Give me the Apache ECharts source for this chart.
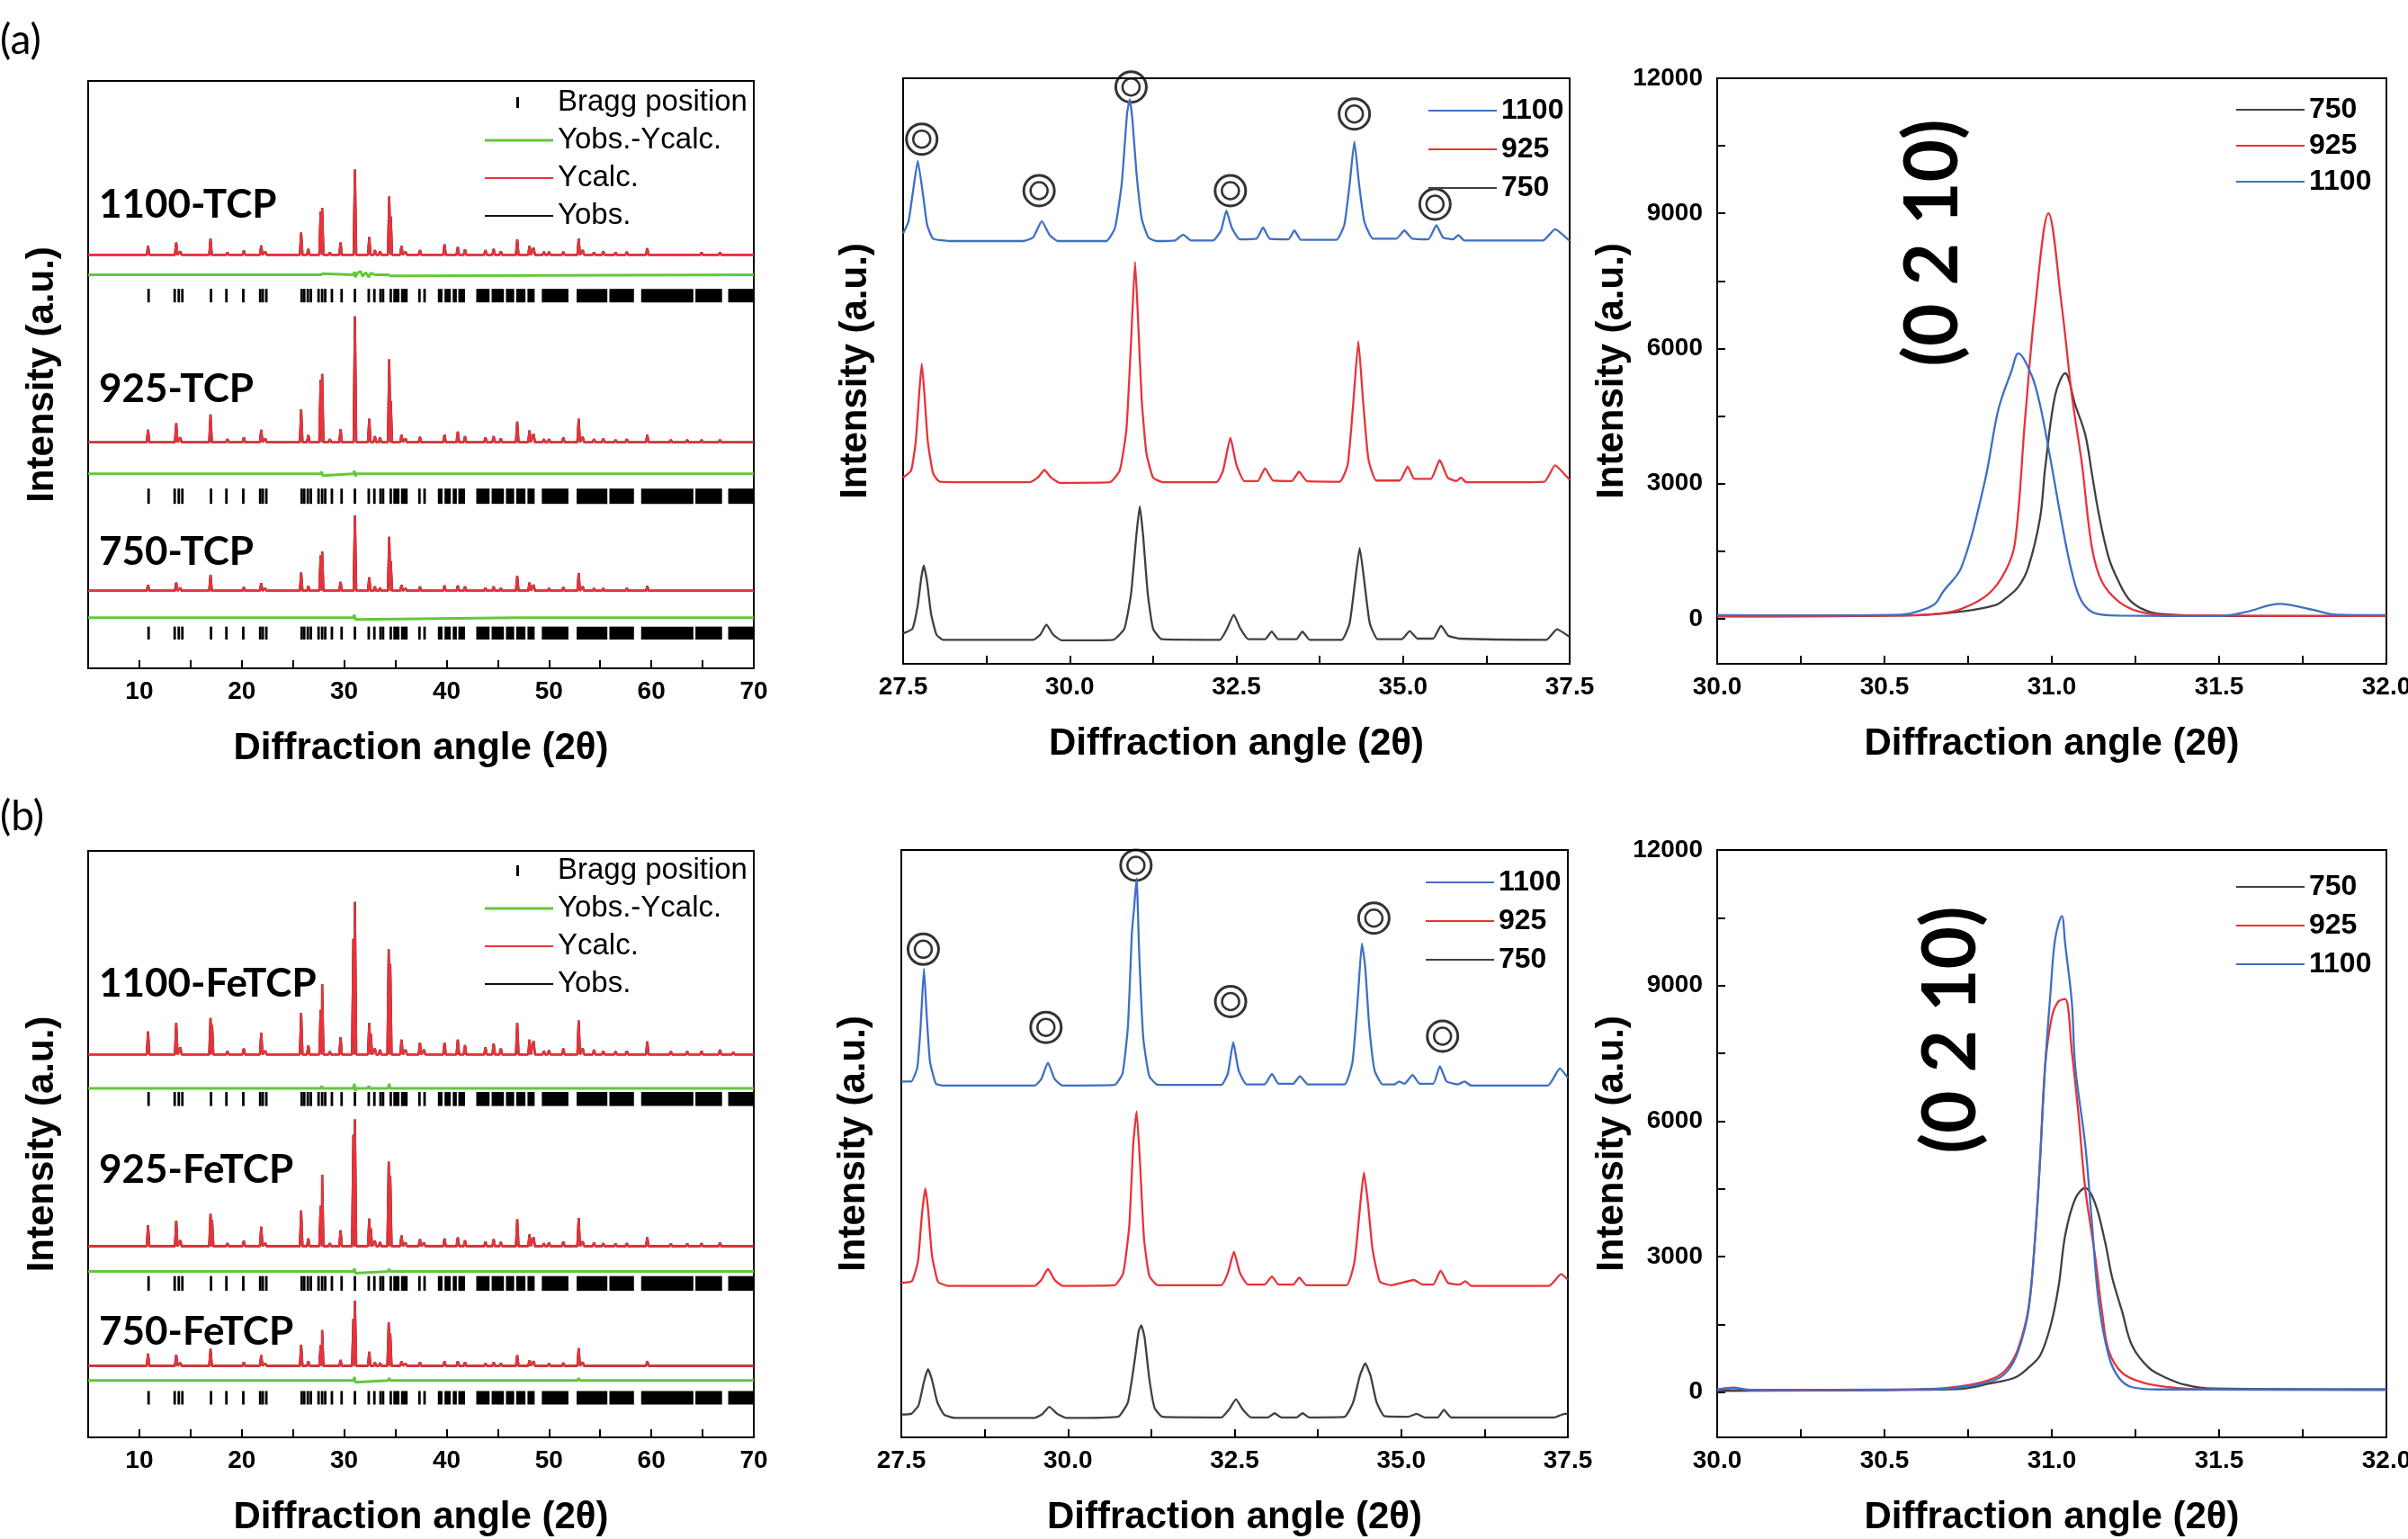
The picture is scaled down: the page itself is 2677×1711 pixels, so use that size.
<!DOCTYPE html>
<html><head><meta charset="utf-8">
<script src="https://cdn.jsdelivr.net/npm/echarts@6/dist/echarts.min.js"></script>
<style>html,body{margin:0;padding:0;background:#fff}#c{width:2677px;height:1711px}</style>
</head><body><div id="c"></div>
<script>
// ---------- Left panels: Rietveld patterns (peak position, height above baseline) ----------
const PEAKS_A1100 = [[10.85,1.5],[13.6,2.1],[14.0,0.6],[16.95,2.8],[18.6,0.4],[20.2,0.7],[21.9,1.6],[22.3,0.5],[25.8,3.8],[26.5,1.0],[27.7,7.4],[27.85,8.0],[28.6,0.4],[29.65,2.1],[31.05,14.5],[32.45,3.0],[33.0,0.8],[33.5,0.6],[34.4,9.9],[34.55,6.5],[35.6,1.5],[36.0,0.5],[37.4,0.8],[39.8,1.8],[41.1,1.3],[41.8,0.9],[43.8,0.8],[44.6,1.0],[45.3,0.6],[46.9,2.6],[48.1,1.5],[48.5,1.2],[49.5,0.5],[50.0,0.5],[51.4,0.5],[52.9,2.8],[53.3,0.8],[54.4,0.4],[55.3,0.6],[56.5,0.4],[57.6,0.5],[59.6,1.1],[61.9,0.3],[63.5,0.3],[64.9,0.4],[66.7,0.4],[68.9,0.3]];
const PEAKS_A925 = [[10.85,2.1],[13.6,3.2],[14.0,0.8],[16.95,4.7],[18.6,0.5],[20.2,0.8],[21.9,2.1],[22.3,0.6],[25.8,5.6],[26.5,1.2],[27.7,10.6],[27.85,11.6],[28.6,0.5],[29.65,2.2],[31.05,21.4],[32.45,4.0],[33.0,1.0],[33.5,0.8],[34.4,14.1],[34.55,7.0],[35.6,1.3],[36.0,0.6],[37.4,0.9],[39.8,1.3],[41.1,1.8],[41.8,1.0],[43.8,0.8],[44.6,1.0],[45.3,0.6],[46.9,3.5],[48.1,2.0],[48.5,1.4],[49.5,0.5],[50.0,0.5],[51.4,0.8],[52.9,4.0],[53.3,0.9],[54.4,0.5],[55.3,0.6],[56.5,0.4],[57.6,0.5],[59.6,1.3],[61.9,0.4],[63.5,0.4],[64.9,0.4],[66.7,0.4],[68.9,0.3]];
const PEAKS_A750 = [[10.85,1.0],[13.6,1.4],[14.0,0.5],[16.95,2.7],[18.6,0.3],[20.2,0.6],[21.9,1.3],[22.3,0.4],[25.8,3.1],[26.5,0.8],[27.7,6.0],[27.85,6.7],[28.6,0.3],[29.65,1.5],[31.05,12.8],[32.45,2.3],[33.0,0.7],[33.5,0.5],[34.4,9.2],[34.55,5.0],[35.6,1.0],[36.0,0.4],[37.4,0.7],[39.8,0.9],[41.1,0.9],[41.8,0.7],[43.8,0.5],[44.6,0.7],[45.3,0.4],[46.9,2.5],[48.1,1.4],[48.5,1.0],[49.5,0.3],[50.0,0.4],[51.4,0.6],[52.9,3.0],[53.3,0.7],[54.4,0.4],[55.3,0.4],[56.5,0.3],[57.6,0.4],[59.6,0.8],[61.9,0.3],[63.5,0.3],[64.9,0.3],[66.7,0.3],[68.9,0.2]];
const PEAKS_B1100 = [[10.85,3.9],[13.6,5.4],[14.0,1.2],[16.95,6.2],[17.1,5.0],[18.6,0.6],[20.2,1.0],[21.9,3.7],[22.3,0.6],[25.8,7.1],[26.5,1.5],[27.7,7.6],[27.85,12.0],[28.6,0.5],[29.65,2.9],[30.9,19.7],[31.05,26.0],[32.45,5.4],[32.6,3.5],[33.0,1.0],[33.5,0.8],[34.35,17.9],[34.5,15.4],[35.6,2.5],[36.0,0.8],[37.4,2.0],[37.8,0.8],[39.8,2.0],[41.1,2.5],[41.8,1.6],[43.8,1.2],[44.6,1.8],[45.3,1.0],[46.9,5.4],[48.1,2.5],[48.5,2.3],[49.5,0.6],[50.0,0.7],[51.4,1.0],[52.9,5.8],[53.3,1.0],[54.4,0.8],[55.3,0.6],[56.5,0.5],[57.6,0.6],[59.6,2.2],[61.9,0.5],[63.5,0.5],[64.9,0.6],[66.7,0.8],[68.0,0.4]];
const PEAKS_B925 = [[10.85,3.6],[13.6,4.3],[14.0,1.0],[16.95,5.5],[17.1,4.5],[18.6,0.5],[20.2,0.9],[21.9,3.3],[22.3,0.5],[25.8,6.1],[26.5,1.3],[27.7,6.9],[27.85,12.2],[28.6,0.5],[29.65,2.7],[30.9,19.0],[31.05,21.6],[32.45,4.7],[32.6,3.0],[33.0,0.9],[33.5,0.7],[34.35,14.4],[34.5,12.0],[35.6,1.8],[36.0,0.6],[37.4,1.2],[37.8,0.6],[39.8,1.3],[41.1,1.5],[41.8,1.0],[43.8,0.8],[44.6,1.2],[45.3,0.7],[46.9,4.6],[48.1,2.0],[48.5,1.5],[49.5,0.5],[50.0,0.6],[51.4,0.8],[52.9,4.8],[53.3,0.8],[54.4,0.6],[55.3,0.5],[56.5,0.4],[57.6,0.5],[59.6,1.5],[61.9,0.4],[63.5,0.4],[64.9,0.5],[66.7,0.6],[68.0,0.3]];
const PEAKS_B750 = [[10.85,2.1],[13.6,1.9],[14.0,0.5],[16.95,2.9],[18.6,0.3],[20.2,0.6],[21.9,1.8],[22.3,0.4],[25.8,3.6],[26.5,0.8],[27.7,3.5],[27.85,6.1],[28.6,0.3],[29.65,1.0],[30.9,8.0],[31.05,11.1],[32.45,2.4],[33.0,0.6],[33.5,0.5],[34.35,7.4],[34.5,5.5],[35.6,0.8],[36.0,0.4],[37.4,0.6],[39.8,0.8],[41.1,0.8],[41.8,0.6],[43.8,0.4],[44.6,0.6],[45.3,0.4],[46.9,1.8],[48.1,0.9],[48.5,0.8],[49.5,0.3],[50.0,0.4],[51.4,0.5],[52.9,3.0],[53.3,0.6],[54.4,0.3],[55.3,0.3],[56.5,0.3],[57.6,0.3],[59.6,0.8],[61.9,0.2],[63.5,0.3],[64.9,0.3],[66.7,0.3],[68.0,0.2]];
const BASE_A = [70.4, 38.5, 13.2];   // baselines of 1100 / 925 / 750 (a)
const BASE_B = [65.3, 32.6, 12.2];   // baselines of 1100 / 925 / 750 (b)
// difference curves (deviation around their own level)
const DIFF_LEVEL_A = [67.0, 33.1, 8.6];
const DIFF_LEVEL_B = [59.5, 28.3, 9.7];
const DIFF_A1100 = [[5,0],[25.7,0],[25.8,0.3],[25.9,0],[27.7,0],[27.8,-0.3],[27.9,0.2],[28.0,0],[30.9,0],[31.0,0.5],[31.1,-0.4],[31.3,0.3],[31.6,0.6],[31.8,-0.3],[32.1,0.4],[32.4,-0.4],[32.6,0.3],[33.0,0],[34.3,0],[34.4,0.3],[34.5,-0.2],[34.6,0],[70,0]];
const DIFF_A925 = [[5,0],[27.7,0],[27.8,0.4],[27.9,-0.3],[28.0,0],[30.9,0],[31.0,0.5],[31.1,-0.4],[31.2,0],[34.3,0],[34.4,0.3],[34.5,0],[70,0]];
const DIFF_A750 = [[5,0],[10.8,0],[10.9,0.3],[11.0,0],[16.9,0],[17.0,0.3],[17.1,0],[30.9,0],[31.0,0.5],[31.1,-0.3],[31.2,0],[46.8,0],[46.9,0.3],[47.0,0],[70,0]];
const DIFF_B1100 = [[5,0],[10.8,0],[10.9,0.3],[11.0,0],[13.5,0],[13.6,0.3],[13.7,0],[27.7,0],[27.8,0.4],[27.9,0],[30.9,0],[31.0,0.8],[31.1,-0.4],[31.2,0],[32.3,0],[32.4,0.4],[32.5,0],[34.3,0],[34.4,0.8],[34.5,0],[70,0]];
const DIFF_B925 = [[5,0],[27.7,0],[27.8,0.3],[27.9,0],[30.9,0],[31.0,0.5],[31.1,-0.3],[31.2,0],[34.3,0],[34.4,0.4],[34.5,0],[70,0]];
const DIFF_B750 = [[5,0],[30.9,0],[31.0,0.6],[31.1,-0.3],[31.2,0],[34.3,0],[34.4,0.4],[34.5,0],[52.8,0],[52.9,0.4],[53.0,0],[70,0]];
// Bragg reflections
const BRAGG_SINGLE = [10.9,13.45,13.85,14.2,17.0,18.5,20.15,21.8,22.05,22.4,25.85,26.1,26.45,26.75,27.5,27.85,28.15,28.8,29.75,31.05,32.4,32.95,33.55,33.8,34.55,37.35,37.85];
const BRAGG_BLOCK = [[34.8,35.4],[35.55,36.2],[39.15,39.6],[39.8,40.4],[40.6,41.0],[41.15,41.8],[42.9,44.2],[44.4,45.6],[45.8,46.6],[46.8,47.7],[47.9,48.6],[49.3,51.9],[52.7,55.7],[55.9,58.3],[59.0,64.1],[64.3,66.9],[67.5,70.0]];
const BRAGG_ROWS_A = [[64.6,62.3],[30.6,28.0],[7.1,4.9]];
const BRAGG_ROWS_B = [[58.9,56.5],[27.5,25.0],[7.9,5.6]];

// ---------- Middle panels (relative intensity, stacked) ----------
const MID_A1100 = [[27.5,73.5],[27.58,75.5],[27.64,80],[27.72,85.9],[27.8,80],[27.86,75],[27.95,72.6],[28.2,72.2],[29.3,72.2],[29.45,72.8],[29.58,75.6],[29.7,73.2],[29.82,72.2],[30.55,72.2],[30.68,74.5],[30.78,82],[30.86,94],[30.9,96.4],[30.94,93],[31.0,84],[31.08,76],[31.18,72.8],[31.3,72.2],[31.58,72.3],[31.7,73.3],[31.82,72.3],[32.15,72.3],[32.27,74],[32.35,77.4],[32.43,74.5],[32.55,72.5],[32.8,72.6],[32.9,74.5],[33.0,72.6],[33.28,72.5],[33.37,74.0],[33.47,72.4],[34.0,72.4],[34.12,75],[34.2,82],[34.27,89.2],[34.34,82],[34.42,75.5],[34.55,72.6],[34.9,72.6],[35.02,74],[35.14,72.6],[35.38,72.5],[35.5,74.9],[35.6,72.8],[35.75,72.5],[35.83,73.2],[35.92,72.3],[37.1,72.3],[37.28,74.2],[37.5,72.2]];
const MID_A925 = [[27.5,31.8],[27.62,33],[27.69,38],[27.74,46],[27.78,51.3],[27.82,46],[27.87,38],[27.95,32.5],[28.05,31.1],[29.4,31.0],[29.52,31.8],[29.62,33.1],[29.72,31.8],[29.85,30.9],[30.6,31.0],[30.75,33],[30.85,40],[30.92,55],[30.98,68.6],[31.02,60],[31.08,45],[31.15,36],[31.25,31.8],[31.4,31.0],[32.2,31.0],[32.3,33],[32.41,38.6],[32.5,34],[32.62,31.2],[32.82,31.2],[32.93,33.4],[33.05,31.3],[33.33,31.2],[33.44,32.8],[33.56,31.2],[34.05,31.1],[34.17,34],[34.25,44],[34.33,55.1],[34.4,45],[34.48,35],[34.6,31.3],[34.95,31.3],[35.07,33.7],[35.17,31.6],[35.42,31.6],[35.55,34.8],[35.67,31.8],[35.8,31.2],[35.87,31.8],[35.95,31.0],[37.12,31.1],[37.28,33.9],[37.5,31.4]];
const MID_A750 = [[27.5,5.2],[27.64,6],[27.72,10],[27.77,14.5],[27.81,16.8],[27.86,14],[27.92,8.5],[28.0,5],[28.1,4.1],[29.45,4.1],[29.56,5],[29.65,6.7],[29.75,5],[29.88,4.0],[30.65,4.1],[30.82,6],[30.92,12],[31.0,22],[31.05,26.9],[31.1,22],[31.17,12],[31.25,6],[31.38,4.2],[32.25,4.1],[32.36,6],[32.46,8.4],[32.56,6],[32.68,4.2],[32.93,4.2],[33.03,5.5],[33.13,4.2],[33.4,4.2],[33.49,5.5],[33.6,4.1],[34.08,4.1],[34.2,7],[34.28,14],[34.35,19.8],[34.42,14],[34.5,7],[34.62,4.2],[34.98,4.2],[35.1,5.6],[35.22,4.3],[35.45,4.3],[35.57,6.5],[35.68,4.8],[35.85,4.3],[37.15,4.1],[37.31,5.9],[37.5,4.6]];
const MID_B1100 = [[27.5,60.6],[27.65,60.6],[27.74,63],[27.79,70],[27.84,79.8],[27.88,72],[27.93,64],[28.02,60.2],[28.15,59.9],[29.5,59.9],[29.6,61],[29.7,63.8],[29.8,61],[29.92,59.9],[30.7,60.0],[30.82,62],[30.9,70],[30.96,86],[30.99,89.8],[31.03,95.2],[31.07,82],[31.13,68],[31.22,61.5],[31.35,60.0],[32.3,60.0],[32.4,62],[32.48,67.3],[32.56,62.5],[32.68,60.1],[32.95,60.1],[33.06,61.9],[33.16,60.2],[33.38,60.2],[33.48,61.5],[33.6,60.1],[34.15,60.1],[34.27,64],[34.35,75],[34.41,84.1],[34.46,80],[34.52,70],[34.6,62.5],[34.72,60.1],[34.9,60.1],[34.97,60.6],[35.05,60.2],[35.17,61.7],[35.28,60.2],[35.48,60.2],[35.58,63.2],[35.68,60.6],[35.85,60.1],[35.95,60.6],[36.05,59.9],[37.2,59.9],[37.38,62.8],[37.5,61.2]];
const MID_B925 = [[27.5,26.3],[27.66,26.6],[27.75,30],[27.81,38],[27.86,42.4],[27.9,39],[27.96,31],[28.05,26.5],[28.2,25.8],[29.5,25.8],[29.6,26.8],[29.7,28.7],[29.8,26.8],[29.92,25.8],[30.7,25.9],[30.83,28],[30.92,36],[30.98,50],[31.03,55.5],[31.08,47],[31.14,34],[31.22,27.5],[31.35,25.9],[32.3,25.9],[32.4,28],[32.49,31.6],[32.58,28],[32.7,26],[32.95,26],[33.06,27.4],[33.16,26],[33.38,26],[33.47,27.2],[33.58,25.9],[34.18,25.9],[34.3,30],[34.38,39],[34.44,45.1],[34.5,40],[34.57,32],[34.68,26.5],[34.85,25.9],[35.0,26.3],[35.19,26.8],[35.32,26],[35.48,26],[35.59,28.4],[35.7,26.3],[35.88,26],[35.96,26.6],[36.05,25.8],[37.22,25.8],[37.4,27.8],[37.5,26.8]];
const MID_B750 = [[27.5,3.9],[27.65,4.0],[27.76,5.5],[27.84,9.5],[27.9,11.6],[27.96,9.8],[28.04,6],[28.14,3.9],[28.3,3.3],[29.5,3.3],[29.62,4],[29.72,5.2],[29.84,4],[29.98,3.3],[30.75,3.5],[30.9,6],[31.0,13],[31.06,18],[31.1,19.1],[31.15,17],[31.22,10],[31.3,5],[31.42,3.5],[32.3,3.4],[32.42,4.8],[32.52,6.5],[32.62,4.8],[32.75,3.4],[33.0,3.4],[33.1,4.1],[33.2,3.4],[33.43,3.4],[33.52,4.1],[33.62,3.4],[34.15,3.5],[34.28,6],[34.38,10.5],[34.46,12.6],[34.54,10.5],[34.63,6],[34.75,3.6],[35.1,3.5],[35.23,4.0],[35.35,3.4],[35.55,3.4],[35.64,4.7],[35.75,3.4],[37.3,3.4],[37.45,4.0],[37.5,4.0]];
const CIRCLES_A = [[27.78,89.6],[29.54,80.8],[30.92,98.5],[32.41,80.8],[34.27,93.9],[35.48,78.5]];
const CIRCLES_B = [[27.83,83.1],[29.67,69.8],[31.02,97.4],[32.44,74.2],[34.59,88.4],[35.62,68.3]];

// ---------- Right panels: (0 2 10) reflection, counts ----------
const R_A1100 = [[30.0,80],[30.3,75],[30.55,90],[30.6,164],[30.65,327],[30.675,600],[30.73,1145],[30.8,3055],[30.84,4636],[30.88,5510],[30.9,5890],[30.94,5400],[30.965,4745],[30.996,3545],[31.03,2127],[31.06,1036],[31.09,382],[31.135,109],[31.2,70],[31.5,60],[31.58,150],[31.68,330],[31.78,200],[31.85,90],[32.0,80]];
const R_A925 = [[30.0,60],[30.55,70],[30.66,110],[30.73,220],[30.81,545],[30.86,1040],[30.89,1690],[30.92,4420],[30.95,6900],[30.99,9000],[31.03,6930],[31.06,4960],[31.09,3440],[31.12,1580],[31.15,820],[31.2,380],[31.26,160],[31.35,80],[32.0,60]];
const R_A750 = [[30.0,50],[30.6,80],[30.73,160],[30.83,300],[30.86,440],[30.9,710],[30.93,1150],[30.965,2240],[30.98,3330],[31.01,4960],[31.04,5450],[31.07,4750],[31.1,4090],[31.12,3220],[31.14,2345],[31.17,1360],[31.2,820],[31.23,440],[31.27,220],[31.32,110],[31.5,60],[32.0,60]];
const R_B1100 = [[30.0,60],[30.05,90],[30.1,50],[30.6,60],[30.73,110],[30.83,270],[30.87,490],[30.9,920],[30.93,1790],[30.95,3410],[30.965,5150],[30.98,7210],[30.996,8830],[31.01,10030],[31.03,10540],[31.04,9920],[31.06,8620],[31.07,7210],[31.1,5470],[31.12,3740],[31.14,2005],[31.17,810],[31.2,325],[31.24,110],[31.32,60],[32.0,60]];
const R_B925 = [[30.0,50],[30.05,100],[30.1,40],[30.6,60],[30.73,130],[30.83,320],[30.87,560],[30.9,980],[30.93,1850],[30.95,3400],[30.965,5150],[30.98,7210],[31.0,8300],[31.02,8650],[31.04,8700],[31.06,7530],[31.08,6125],[31.1,4500],[31.13,2980],[31.15,1790],[31.17,920],[31.21,430],[31.27,215],[31.35,110],[31.45,60],[32.0,50]];
const R_B750 = [[30.0,30],[30.5,50],[30.73,75],[30.81,185],[30.89,325],[30.93,540],[30.965,810],[30.996,1460],[31.02,2330],[31.04,3470],[31.07,4280],[31.1,4520],[31.13,4170],[31.16,3300],[31.18,2550],[31.21,1790],[31.24,1030],[31.29,540],[31.34,325],[31.4,160],[31.48,80],[32.0,60]];

// ---------- tick labels & texts ----------
const X_TITLE = 'Diffraction angle (2\u03b8)';
const Y_TITLE = 'Intensity (a.u.)';
const LABELS_A = ['1100-TCP', '925-TCP', '750-TCP'];
const LABELS_B = ['1100-FeTCP', '925-FeTCP', '750-FeTCP'];
const Y_RIGHT_LABELS = [0, 3000, 6000, 9000, 12000];
const Y_RIGHT_TICKS = [0, 1500, 3000, 4500, 6000, 7500, 9000, 10500, 12000];

// ---------- styling ----------
const C_RED = '#e8333a', C_BLUE = '#3f6fc4', C_GRAY = '#404040', C_GREEN = '#62c83c', C_BLACK = '#111';
const AF = 'Liberation Sans';
const tickFont = {fontFamily: AF, fontWeight: 'bold', fontSize: 28, color: '#000'};
const nameFont = {fontFamily: AF, fontWeight: 'bold', fontSize: 42, color: '#000'};
const AXL = {show: true, onZero: false, lineStyle: {color: '#000', width: 2}};
const TICK = {show: true, inside: true, length: 9, lineStyle: {color: '#000', width: 2}};

function spikes(peaks, base) {
  const hw = 0.13;
  const pts = [[5, base]];
  peaks.forEach(([p, h]) => { pts.push([p - hw, base], [p, base + h], [p + hw, base]); });
  pts.push([70, base]);
  return pts;
}
function shift(arr, lvl) { return arr.map(([x, d]) => [x, lvl + d]); }
function braggData(rows) {
  const out = [];
  rows.forEach(([top, bot]) => {
    BRAGG_SINGLE.forEach(x => out.push([x, x, top, bot]));
    BRAGG_BLOCK.forEach(([a, b]) => out.push([a, b, top, bot]));
  });
  return out;
}
const onGrid = (s, i) => Object.assign(s, {xAxisIndex: i, yAxisIndex: i});
function lineS(name, data, color, width, i, smooth) {
  return onGrid({type: 'line', name, data, showSymbol: false, symbol: 'none', smooth: smooth || false,
    lineStyle: {color, width}, itemStyle: {color}, animation: false, silent: true}, i);
}

const grids = [
  {left: 98, top: 90, width: 740, height: 653},
  {left: 1004, top: 87, width: 741, height: 651},
  {left: 1909, top: 87, width: 744, height: 651},
  {left: 98, top: 946, width: 740, height: 652},
  {left: 1002, top: 945, width: 741, height: 653},
  {left: 1909, top: 945, width: 744, height: 653}
].map(g => Object.assign(g, {show: true, borderColor: '#000', borderWidth: 2, containLabel: false, outerBoundsMode: 'none'}));

function xAx(i, min, max, interval, fmt) {
  return {type: 'value', gridIndex: i, min, max, interval, axisLine: AXL, axisTick: TICK,
    axisLabel: Object.assign({margin: 12, formatter: fmt, showMinLabel: true, showMaxLabel: true}, tickFont),
    splitLine: {show: false}, name: X_TITLE, nameLocation: 'middle', nameGap: 68, nameTextStyle: nameFont, nameMoveOverlap: false};
}
function yRel(i, gap) {
  return {type: 'value', gridIndex: i, min: 0, max: 100, axisLine: AXL, axisTick: {show: false},
    axisLabel: {show: false}, splitLine: {show: false}, name: Y_TITLE, nameLocation: 'middle', nameGap: gap,
    nameRotate: 90, nameTextStyle: nameFont, nameMoveOverlap: false};
}
function yCounts(i) {
  return {type: 'value', gridIndex: i, min: -1000, max: 12000, interval: 500, axisLine: AXL,
    axisTick: Object.assign({customValues: Y_RIGHT_TICKS}, TICK),
    axisLabel: Object.assign({margin: 16, customValues: Y_RIGHT_LABELS,
      formatter: v => (v >= 0 && v % 3000 === 0) ? String(v) : ''}, tickFont),
    splitLine: {show: false}, name: Y_TITLE, nameLocation: 'middle', nameGap: 96, nameRotate: 90,
    nameTextStyle: nameFont, nameMoveOverlap: false};
}
const fmt10 = v => (Math.abs(v % 10) < 1e-6) ? String(v) : '';
const fmt25 = v => (Math.abs(v / 2.5 - Math.round(v / 2.5)) < 1e-6) ? v.toFixed(1) : '';
const fmt05 = v => (Math.abs(v * 2 - Math.round(v * 2)) < 1e-6) ? v.toFixed(1) : '';

const xAxes = [
  xAx(0, 5, 70, 5, fmt10), xAx(1, 27.5, 37.5, 1.25, fmt25), xAx(2, 30, 32, 0.25, fmt05),
  xAx(3, 5, 70, 5, fmt10), xAx(4, 27.5, 37.5, 1.25, fmt25), xAx(5, 30, 32, 0.25, fmt05)
];
const yAxes = [yRel(0, 30), yRel(1, 32), yCounts(2), yRel(3, 30), yRel(4, 32), yCounts(5)];

const series = [];
function leftPanel(i, peaks, bases, diffs, diffLv, rows) {
  peaks.forEach((p, k) => series.push(lineS('Yobs.', spikes(p, bases[k]), C_BLACK, 2.4, i)));
  peaks.forEach((p, k) => series.push(lineS('Ycalc.', spikes(p, bases[k]), C_RED, 2.4, i)));
  diffs.forEach((d, k) => series.push(lineS('Yobs.-Ycalc.', shift(d, diffLv[k]), C_GREEN, 3, i)));
  series.push(onGrid({type: 'custom', name: 'Bragg position', data: braggData(rows),
    encode: {x: [0, 1], y: [2, 3]}, itemStyle: {color: '#000'}, animation: false, silent: true,
    renderItem: (params, api) => {
      const a = api.coord([api.value(0), api.value(2)]);
      const b = api.coord([api.value(1), api.value(3)]);
      let w = b[0] - a[0], x = a[0];
      if (w < 2.8) { x = a[0] - 1.4; w = 2.8; }
      return {type: 'rect', shape: {x, y: a[1], width: w, height: b[1] - a[1]}, style: {fill: '#000'}};
    }}, i));
}
leftPanel(0, [PEAKS_A1100, PEAKS_A925, PEAKS_A750], BASE_A, [DIFF_A1100, DIFF_A925, DIFF_A750], DIFF_LEVEL_A, BRAGG_ROWS_A);
leftPanel(3, [PEAKS_B1100, PEAKS_B925, PEAKS_B750], BASE_B, [DIFF_B1100, DIFF_B925, DIFF_B750], DIFF_LEVEL_B, BRAGG_ROWS_B);

function midPanel(i, d1100, d925, d750, circles) {
  series.push(lineS('1100', d1100, C_BLUE, 2.3, i, 0.15));
  series.push(lineS('925', d925, C_RED, 2.3, i, 0.15));
  series.push(lineS('750', d750, C_GRAY, 2.3, i, 0.15));
  series.push(onGrid({type: 'scatter', data: circles, symbol: 'circle', symbolSize: 34, silent: true, animation: false,
    itemStyle: {color: 'rgba(0,0,0,0)', borderColor: '#000', borderWidth: 3}}, i));
  series.push(onGrid({type: 'scatter', data: circles, symbol: 'circle', symbolSize: 19, silent: true, animation: false,
    itemStyle: {color: 'rgba(0,0,0,0)', borderColor: '#000', borderWidth: 2.5}}, i));
}
midPanel(1, MID_A1100, MID_A925, MID_A750, CIRCLES_A);
midPanel(4, MID_B1100, MID_B925, MID_B750, CIRCLES_B);

function rightPanel(i, d750, d925, d1100) {
  series.push(lineS('750', d750, C_GRAY, 2.3, i, 0.35));
  series.push(lineS('925', d925, C_RED, 2.3, i, 0.35));
  series.push(lineS('1100', d1100, C_BLUE, 2.3, i, 0.35));
}
rightPanel(2, R_A750, R_A925, R_A1100);
rightPanel(5, R_B750, R_B925, R_B1100);

// legend icons: invisible corner specks keep the icon box full-size so the mark sits where it should
const BRAGG_ICON = 'path://M0,0L0.01,0L0.01,0.01L0,0.01Z M35,1L38,1L38,13L35,13Z M76,13.99L76.01,13.99L76.01,14L76,14Z';
const LINE_ICON = 'path://M0,0L0.01,0L0.01,0.01L0,0.01Z M0,5.9L76,5.9L76,8.1L0,8.1Z M76,13.99L76.01,13.99L76.01,14L76,14Z';
const LINE_ICON3 = 'path://M0,0L0.01,0L0.01,0.01L0,0.01Z M0,5.5L76,5.5L76,8.5L0,8.5Z M76,13.99L76.01,13.99L76.01,14L76,14Z';
const legLeft = (top) => ({orient: 'vertical', left: 534, top, itemWidth: 76, itemHeight: 14, itemGap: 8, selectedMode: false,
  textStyle: {fontFamily: AF, fontSize: 33, color: '#000', lineHeight: 34},
  data: [{name: 'Bragg position', icon: BRAGG_ICON}, {name: 'Yobs.-Ycalc.', icon: LINE_ICON3},
    {name: 'Ycalc.', icon: LINE_ICON}, {name: 'Yobs.', icon: LINE_ICON}]});
const legNum = (left, top, gap, names) => ({orient: 'vertical', left, top, itemWidth: 76, itemHeight: 14, itemGap: gap, selectedMode: false,
  textStyle: {fontFamily: AF, fontSize: 32, fontWeight: 'bold', color: '#000', lineHeight: 36},
  data: names.map(n => ({name: n, icon: LINE_ICON}))});

const txt = (text, x, y, font, extra) => Object.assign({type: 'text', x, y, silent: true,
  style: {text, font, fill: '#000', align: 'left', verticalAlign: 'middle'}}, extra || {});
const SAMPLE_FONT = 'bold 44px Lato';
const graphics = [
  txt('(a)', 0, 45, '46px Lato'),
  txt('(b)', 0, 908, '46px Lato'),
  txt(LABELS_A[0], 110, 228, SAMPLE_FONT), txt(LABELS_A[1], 110, 433, SAMPLE_FONT), txt(LABELS_A[2], 110, 614, SAMPLE_FONT),
  txt(LABELS_B[0], 110, 1094, SAMPLE_FONT), txt(LABELS_B[1], 110, 1301, SAMPLE_FONT), txt(LABELS_B[2], 110, 1481, SAMPLE_FONT),
  {type: 'text', x: 2150, y: 270, rotation: Math.PI / 2, silent: true,
    style: {text: '(0 2 10)', font: 'bold 82px Lato', fill: '#000', align: 'center', verticalAlign: 'middle'}},
  {type: 'text', x: 2170, y: 1145, rotation: Math.PI / 2, silent: true,
    style: {text: '(0 2 10)', font: 'bold 82px Lato', fill: '#000', align: 'center', verticalAlign: 'middle'}}
];

const chart = echarts.init(document.getElementById('c'), null, {renderer: 'canvas'});
chart.setOption({
  animation: false,
  backgroundColor: '#fff',
  grid: grids,
  xAxis: xAxes,
  yAxis: yAxes,
  legend: [legLeft(92), legLeft(946),
    legNum(1583, 100, 7, ['1100', '925', '750']), legNum(1580, 958, 7, ['1100', '925', '750']),
    legNum(2481, 99, 4, ['750', '925', '1100']), legNum(2481, 963, 7, ['750', '925', '1100'])],
  series,
  graphic: graphics
});
</script></body></html>
